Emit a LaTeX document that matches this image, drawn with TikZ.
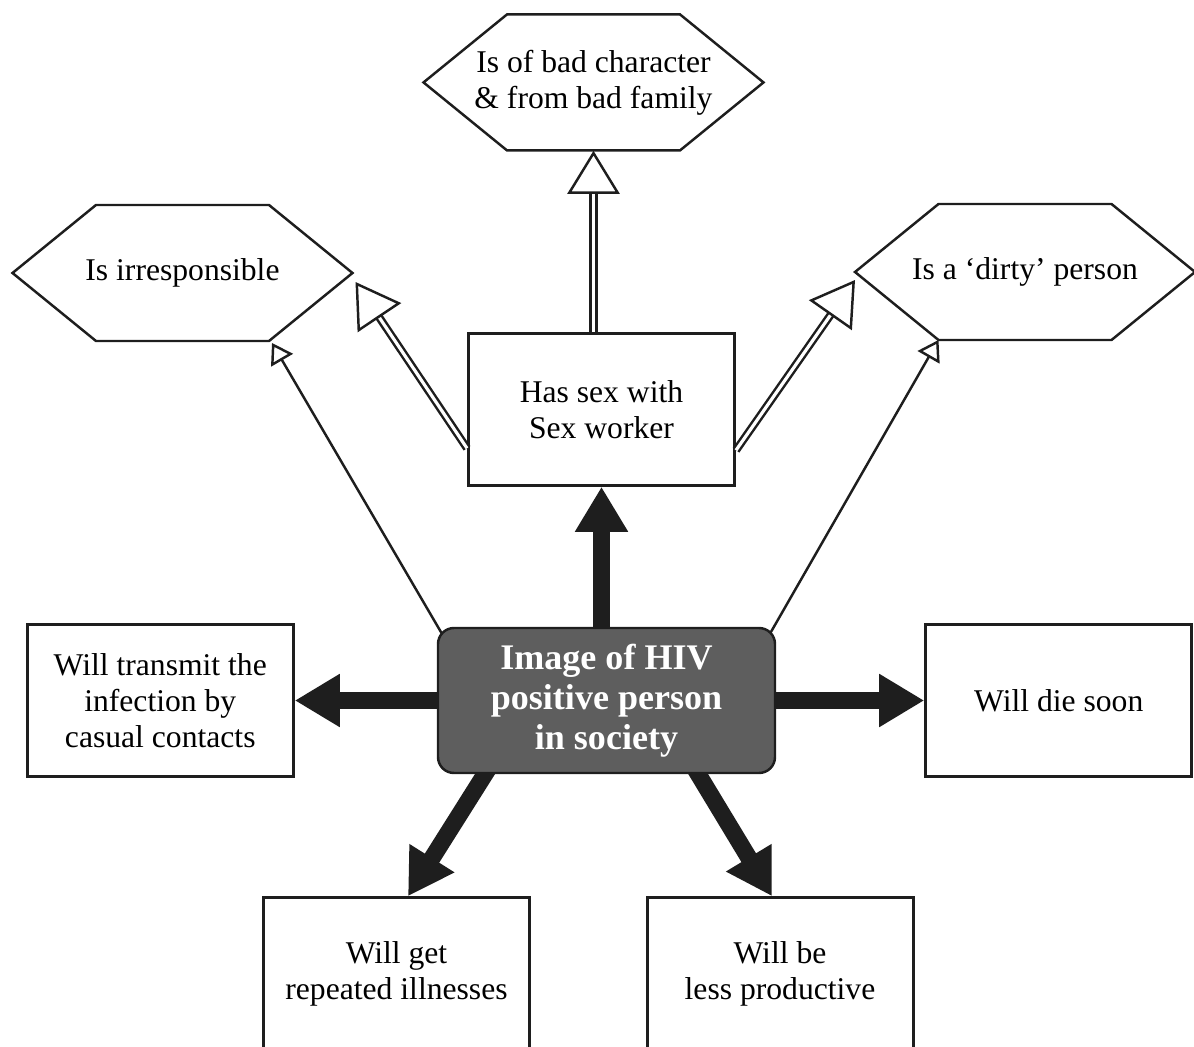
\documentclass[tikz,border=0pt]{standalone}
\usepackage{fontspec}
\setmainfont{Liberation Serif}
\usetikzlibrary{arrows.meta, positioning, backgrounds}

\definecolor{inkgray}{HTML}{1E1E1E}
\definecolor{hubgray}{HTML}{5E5E5E}

\begin{document}
\begin{tikzpicture}[
    box/.style={rectangle, draw=inkgray, line width=1.7pt, minimum width=5.32cm, minimum height=3.04cm, align=center, font=\fontsize{18}{20.5}\selectfont},
    hexa/.style={inner sep=0pt, minimum height=2.72cm, align=center, font=\fontsize{18}{20.5}\selectfont},
    hexline/.style={draw=inkgray, line width=1.4pt},
    hub/.style={rectangle, rounded corners=0.32cm, draw=inkgray, line width=1.4pt, fill=hubgray, text=white, minimum width=6.74cm, minimum height=2.9cm, align=center, font=\bfseries\fontsize{20.5}{22.8}\selectfont},
    bigarrow/.style={draw=inkgray, line width=0.34cm, -{Triangle[length=0.9cm, width=1cm]}},
    dblarrow/.style={draw=inkgray, line width=1.4pt, double=white, double distance=1.8pt, -{Triangle[open, length=0.86cm, width=1.04cm, line width=1.4pt]}},
    thinarrow/.style={draw=inkgray, line width=1.4pt, -{Triangle[open, length=0.4cm, width=0.5cm]}}
]
    \useasboundingbox (0,0) rectangle (23.88,-20.94);

    % hub and the boxes round it
    \node[hub] (hub) at (12.13,-14.01) {Image of HIV\\positive person\\in society};
    \node[box, above=2.8cm of hub, xshift=-0.1cm] (sexwork) {Has sex with\\Sex worker};
    \node[box, left=2.84cm of hub] (transmit) {Will transmit the\\infection by\\casual contacts};
    \node[box, right=2.96cm of hub] (diesoon) {Will die soon};
    \node[box, below=2.44cm of hub, xshift=-4.2cm] (illness) {Will get\\repeated illnesses};
    \node[box, below=2.44cm of hub, xshift=3.47cm] (productive) {Will be\\less productive};

    % hexagon labels
    \node[hexa, above=3.62cm of sexwork, xshift=-0.16cm] (badchar) {Is of bad character\\\& from bad family};
    \node[hexa] (irresp) at (3.65,-5.46) {Is irresponsible};
    \node[hexa] (dirty) at (20.5,-5.44) {Is a ‘dirty’ person};

    \foreach \h in {badchar, irresp, dirty} {
        \coordinate (\h-w)  at ([xshift=-3.4cm]\h.center);
        \coordinate (\h-e)  at ([xshift=3.4cm]\h.center);
        \coordinate (\h-nw) at ([shift={(-1.73,1.36)}]\h.center);
        \coordinate (\h-ne) at ([shift={(1.73,1.36)}]\h.center);
        \coordinate (\h-se) at ([shift={(1.73,-1.36)}]\h.center);
        \coordinate (\h-sw) at ([shift={(-1.73,-1.36)}]\h.center);
        \draw[hexline] (\h-w) -- (\h-nw) -- (\h-ne) -- (\h-e) -- (\h-se) -- (\h-sw) -- cycle;
    }

    % arrows out of the hub (behind it)
    \begin{scope}[on background layer]
        \draw[bigarrow] (sexwork.south |- hub.center) -- (sexwork.south);
        \draw[bigarrow] (hub.center) -- (transmit.east);
        \draw[bigarrow] (hub.center) -- (diesoon.west);
        \draw[bigarrow] ([shift={(1.12,0.25)}]hub.south west) -- ([xshift=0.23cm]illness.north);
        \draw[bigarrow] ([shift={(-1.71,0.25)}]hub.south east) -- ([xshift=-0.16cm]productive.north);
        \draw[thinarrow] ([shift={(0.25,-0.39)}]hub.north west) -- ([shift={(0.06,-0.04)}]irresp-se);
        \draw[thinarrow] ([shift={(-0.27,-0.39)}]hub.north east) -- (dirty-sw);
    \end{scope}

    % what sex work is taken to mean
    \draw[dblarrow] (badchar.south |- sexwork.north) -- (badchar.south);
    \draw[dblarrow] ([yshift=-0.78cm]sexwork.west) -- ([shift={(0.06,-0.18)}]irresp-e);
    \draw[dblarrow] ([yshift=-0.82cm]sexwork.east) -- ([yshift=-0.16cm]dirty-w);
\end{tikzpicture}
\end{document}
